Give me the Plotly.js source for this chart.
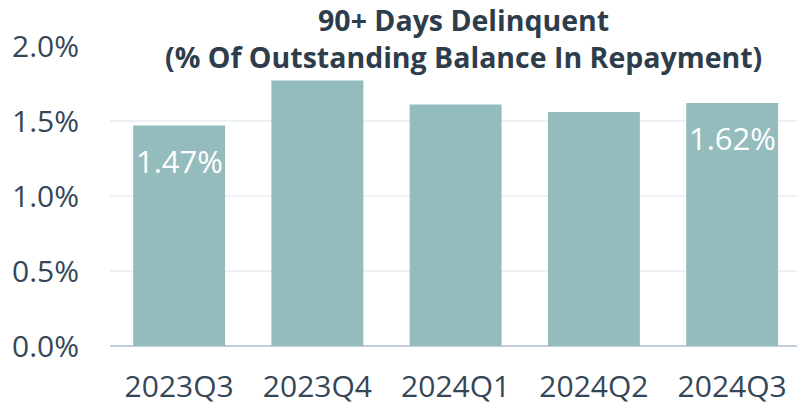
<!DOCTYPE html>
<html>
<head>
<meta charset="utf-8">
<script src="https://cdn.plot.ly/plotly-3.0.1.min.js"></script>
<style>html,body{margin:0;padding:0;background:#fff;}#chart{width:797px;height:406px;}</style>
</head>
<body>
<div id="chart"></div>
<script>
const categories = ["2023Q3", "2023Q4", "2024Q1", "2024Q2", "2024Q3"];
const values = [1.47, 1.77, 1.61, 1.56, 1.62];
const labels = ["1.47%", "", "", "", "1.62%"];
const tickVals = [0, 0.5, 1.0, 1.5, 2.0];
const tickText = ["0.0%", "0.5%", "1.0%", "1.5%", "2.0%"];
const titleText = "<b>90+ Days Delinquent</b><br><b>(% Of Outstanding Balance In Repayment)</b>";

const trace = {
  type: "bar",
  x: categories,
  y: values,
  marker: {color: "#94bcbd"},
  width: 0.665,
  hoverinfo: "none"
};

const annotations = [{
  text: titleText,
  xref: "paper", yref: "paper",
  x: 0.514, y: 1.024, xanchor: "center", yanchor: "middle",
  showarrow: false, borderpad: 0,
  font: {family: "Open Sans", size: 28.5, color: "#2e3d4c"}
}];
labels.forEach((t, i) => {
  if (!t) return;
  annotations.push({
    text: t, x: categories[i], y: values[i],
    xref: "x", yref: "y", xanchor: "center", yanchor: "top",
    yshift: -12, showarrow: false,
    font: {family: "Open Sans", size: 31, color: "#ffffff"}
  });
});

const layout = {
  width: 797, height: 406,
  margin: {l: 110, r: 0, t: 46, b: 60},
  paper_bgcolor: "#ffffff", plot_bgcolor: "#ffffff",
  showlegend: false,
  annotations: annotations,
  xaxis: {
    type: "category",
    range: [-0.5, 4.469],
    showgrid: false, zeroline: false, showline: false, ticks: "",
    tickfont: {family: "Open Sans", size: 30, color: "#354657"},
    ticklabelstandoff: 20
  },
  yaxis: {
    range: [0, 2.0],
    tickvals: tickVals, ticktext: tickText,
    showgrid: true, gridcolor: "#edf1f5", gridwidth: 2,
    zeroline: true, zerolinecolor: "#c3cdd6", zerolinewidth: 2,
    showline: false, ticks: "",
    tickfont: {family: "Open Sans", size: 30, color: "#354657"},
    ticklabelstandoff: 30
  }
};

Plotly.newPlot("chart", [trace], layout, {displayModeBar: false, staticPlot: true});
</script>
</body>
</html>
